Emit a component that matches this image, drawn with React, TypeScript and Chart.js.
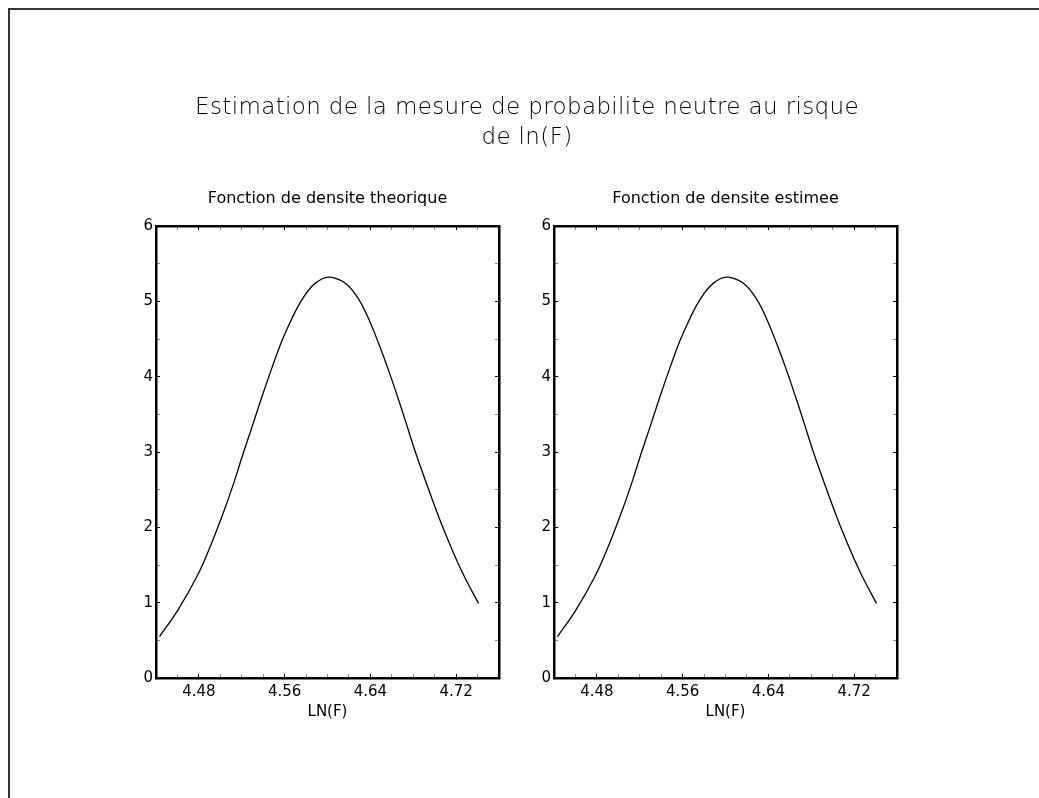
import React, { useEffect, useRef } from 'react';
import { Chart, registerables } from 'chart.js';

Chart.register(...registerables);

const MAIN_TITLE = ['Estimation de la mesure de probabilite neutre au risque', 'de ln(F)'];
const SUB_TITLES = ['Fonction de densite theorique', 'Fonction de densite estimee'];
const X_AXIS_TITLE = 'LN(F)';

const X_MIN = 4.44;
const X_MAX = 4.76;
const X_STEP = 0.02;
const X_TICK_LABELS = ['4.48', '4.56', '4.64', '4.72'];

const Y_MIN = 0;
const Y_MAX = 6;
const Y_STEP = 0.5;
const Y_TICK_LABELS = ['0', '1', '2', '3', '4', '5', '6'];

const X_THEO = [4.4433, 4.4604, 4.479, 4.4916, 4.504, 4.5135, 4.5213, 4.5307, 4.5385, 4.548, 4.5573, 4.5667, 4.576, 4.5855, 4.595, 4.6026, 4.6167, 4.629, 4.6386, 4.648, 4.6573, 4.6652, 4.673, 4.6808, 4.6886, 4.698, 4.709, 4.72, 4.7293, 4.7409];
const Y_THEO = [0.55, 0.9, 1.37, 1.78, 2.24, 2.63, 2.98, 3.38, 3.72, 4.11, 4.47, 4.77, 5.02, 5.2, 5.3, 5.32, 5.24, 5.03, 4.76, 4.43, 4.07, 3.74, 3.4, 3.05, 2.73, 2.36, 1.95, 1.58, 1.3, 0.99];

const X_EST = [4.4433, 4.4604, 4.479, 4.4916, 4.504, 4.5135, 4.5213, 4.5307, 4.5385, 4.548, 4.5573, 4.5667, 4.576, 4.5855, 4.595, 4.6026, 4.6167, 4.629, 4.6386, 4.648, 4.6573, 4.6652, 4.673, 4.6808, 4.6886, 4.698, 4.709, 4.72, 4.7293, 4.7409];
const Y_EST = [0.55, 0.9, 1.37, 1.78, 2.24, 2.63, 2.98, 3.38, 3.72, 4.11, 4.47, 4.77, 5.02, 5.2, 5.3, 5.32, 5.24, 5.03, 4.76, 4.43, 4.07, 3.74, 3.4, 3.05, 2.73, 2.36, 1.95, 1.58, 1.3, 0.99];

const FONT = "'DejaVu Sans', sans-serif";

function tickColorX(ctx: any) {
  const v = ctx.tick ? ctx.tick.value : 0;
  return X_TICK_LABELS.includes(Number(v).toFixed(2)) ? '#000' : '#888';
}
function tickColorY(ctx: any) {
  const v = ctx.tick ? ctx.tick.value : 0;
  return Y_TICK_LABELS.includes(String(v)) ? '#000' : '#888';
}

function makeConfig(xs: number[], ys: number[], title: string): any {
  const data = xs.map((x, i) => ({ x, y: ys[i] }));
  const border = { display: true, width: 2.5, color: '#000' };
  return {
    type: 'line',
    data: {
      datasets: [
        {
          data,
          borderColor: '#000',
          borderWidth: 1.3,
          pointRadius: 0,
          fill: false,
          tension: 0.4,
          xAxisID: 'x',
          yAxisID: 'y',
        },
      ],
    },
    options: {
      animation: false,
      responsive: false,
      layout: { padding: 0 },
      plugins: {
        legend: { display: false },
        tooltip: { enabled: false },
        title: {
          display: true,
          text: title,
          color: '#000',
          font: { family: FONT, size: 16, weight: 'normal' },
          padding: { top: 9, bottom: 17.8 },
        },
      },
      scales: {
        x: {
          type: 'linear',
          position: 'bottom',
          min: X_MIN,
          max: X_MAX,
          ticks: {
            stepSize: X_STEP,
            autoSkip: false,
            maxRotation: 0,
            padding: 9.5,
            color: '#000',
            font: { family: FONT, size: 15 },
            callback: (v: number) => {
              const s = Number(v).toFixed(2);
              return X_TICK_LABELS.includes(s) ? s : '';
            },
          },
          grid: { drawOnChartArea: false, tickLength: -4, color: tickColorX, lineWidth: 1 },
          border,
          title: {
            display: true,
            text: X_AXIS_TITLE,
            color: '#000',
            font: { family: FONT, size: 15 },
            padding: { top: 0, bottom: 19 },
          },
          afterFit: (s: any) => { s.height = 62; },
        },
        x2: {
          type: 'linear',
          position: 'top',
          min: X_MIN,
          max: X_MAX,
          ticks: { stepSize: X_STEP, autoSkip: false, display: false },
          grid: { drawOnChartArea: false, tickLength: -4, color: tickColorX, lineWidth: 1 },
          border,
          afterFit: (s: any) => { s.height = 0; },
        },
        y: {
          type: 'linear',
          position: 'left',
          min: Y_MIN,
          max: Y_MAX,
          ticks: {
            stepSize: Y_STEP,
            autoSkip: false,
            padding: 7,
            color: '#000',
            font: { family: FONT, size: 15 },
            callback: (v: number) => (Y_TICK_LABELS.includes(String(v)) ? String(v) : ''),
          },
          grid: { drawOnChartArea: false, tickLength: -4, color: tickColorY, lineWidth: 1 },
          border,
          afterFit: (s: any) => { s.width = 56; },
        },
        y2: {
          type: 'linear',
          position: 'right',
          min: Y_MIN,
          max: Y_MAX,
          ticks: { stepSize: Y_STEP, autoSkip: false, display: false },
          grid: { drawOnChartArea: false, tickLength: -4, color: tickColorY, lineWidth: 1 },
          border,
          afterFit: (s: any) => { s.width = 56; },
        },
      },
    },
  };
}

function Panel({ left, xs, ys, title }: { left: number; xs: number[]; ys: number[]; title: string }) {
  const ref = useRef<HTMLCanvasElement | null>(null);
  useEffect(() => {
    if (!ref.current) return;
    const chart = new Chart(ref.current, makeConfig(xs, ys, title));
    return () => chart.destroy();
  }, [xs, ys, title]);
  return (
    <canvas
      ref={ref}
      width={455}
      height={560}
      style={{ position: 'absolute', left, top: 180, width: 455, height: 560 }}
    />
  );
}

export default function App() {
  return (
    <div>
      <div
        style={{
          position: 'fixed',
          left: 8,
          top: 8,
          right: -10,
          bottom: -10,
          borderLeft: '2px solid #333',
          borderTop: '2px solid #333',
          pointerEvents: 'none',
        }}
      />
      <div
        style={{
          position: 'absolute',
          left: 127,
          top: 91,
          width: 800,
          textAlign: 'center',
          fontFamily: FONT,
          fontWeight: 200,
          fontSize: 23,
          lineHeight: '30px',
          letterSpacing: '0.37px',
          color: '#000',
        }}
      >
        {MAIN_TITLE.map((t, i) => (
          <div key={i}>{t}</div>
        ))}
      </div>
      <Panel left={100} xs={X_THEO} ys={Y_THEO} title={SUB_TITLES[0]} />
      <Panel left={498} xs={X_EST} ys={Y_EST} title={SUB_TITLES[1]} />
    </div>
  );
}
